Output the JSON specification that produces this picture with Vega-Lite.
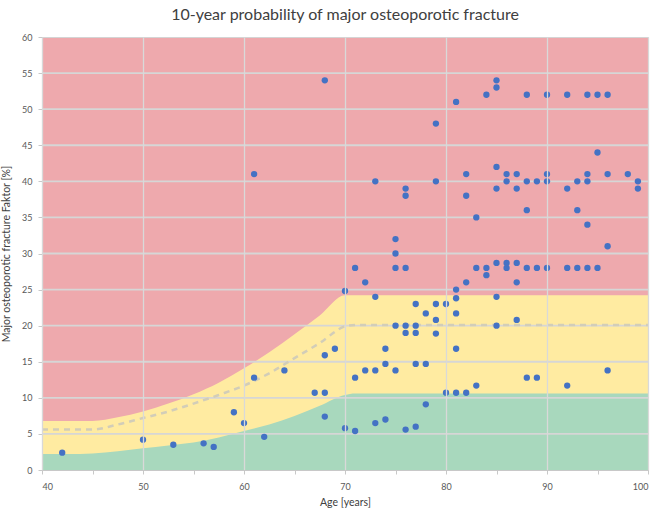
{
  "$schema": "https://vega.github.io/schema/vega-lite/v6.json",
  "width": 606,
  "height": 433,
  "autosize": {"type": "none"},
  "padding": {"left": 42, "top": 37, "right": 12, "bottom": 45},
  "background": "white",
  "config": {
    "font": "Lato",
    "view": {"stroke": "#D4D4D4", "strokeWidth": 1, "fill": "#EEA9AD"},
    "axis": {"labelFont": "Lato", "titleFont": "Lato", "labelColor": "#595959", "titleColor": "#404040", "labelFontSize": 9, "titleFontSize": 10.5, "titleFontWeight": "normal", "domainColor": "#C8C8C8", "tickColor": "#C8C8C8", "gridColor": "#D9D9D9", "gridWidth": 1.3}
  },
  "title": {"text": "10-year probability of major osteoporotic fracture", "fontSize": 16, "fontWeight": "normal", "color": "#404040", "font": "Lato", "offset": 10},
  "datasets": {
    "bands": [
      {"age": 40, "band": "lower", "v": 2.2}, {"age": 40, "band": "mid", "v": 5.6}, {"age": 40, "band": "upper", "v": 6.8},
      {"age": 42.5, "band": "lower", "v": 2.2}, {"age": 42.5, "band": "mid", "v": 5.6}, {"age": 42.5, "band": "upper", "v": 6.8},
      {"age": 45, "band": "lower", "v": 2.3}, {"age": 45, "band": "mid", "v": 5.6}, {"age": 45, "band": "upper", "v": 6.8},
      {"age": 47.5, "band": "lower", "v": 2.6}, {"age": 47.5, "band": "mid", "v": 6.3}, {"age": 47.5, "band": "upper", "v": 7.3},
      {"age": 50, "band": "lower", "v": 3.0}, {"age": 50, "band": "mid", "v": 7.2}, {"age": 50, "band": "upper", "v": 8.1},
      {"age": 52.5, "band": "lower", "v": 3.4}, {"age": 52.5, "band": "mid", "v": 8.1}, {"age": 52.5, "band": "upper", "v": 9.2},
      {"age": 55, "band": "lower", "v": 3.8}, {"age": 55, "band": "mid", "v": 9.2}, {"age": 55, "band": "upper", "v": 10.5},
      {"age": 57.5, "band": "lower", "v": 4.5}, {"age": 57.5, "band": "mid", "v": 10.4}, {"age": 57.5, "band": "upper", "v": 12.1},
      {"age": 60, "band": "lower", "v": 5.4}, {"age": 60, "band": "mid", "v": 11.7}, {"age": 60, "band": "upper", "v": 14.1},
      {"age": 62.5, "band": "lower", "v": 6.3}, {"age": 62.5, "band": "mid", "v": 13.4}, {"age": 62.5, "band": "upper", "v": 16.3},
      {"age": 65, "band": "lower", "v": 7.5}, {"age": 65, "band": "mid", "v": 15.5}, {"age": 65, "band": "upper", "v": 18.8},
      {"age": 67.5, "band": "lower", "v": 8.9}, {"age": 67.5, "band": "mid", "v": 17.6}, {"age": 67.5, "band": "upper", "v": 21.4},
      {"age": 70, "band": "lower", "v": 10.4}, {"age": 70, "band": "mid", "v": 19.9}, {"age": 70, "band": "upper", "v": 24.2},
      {"age": 71, "band": "lower", "v": 10.6}, {"age": 71, "band": "mid", "v": 20.1}, {"age": 71, "band": "upper", "v": 24.2},
      {"age": 100, "band": "lower", "v": 10.6}, {"age": 100, "band": "mid", "v": 20.1}, {"age": 100, "band": "upper", "v": 24.2}
    ],
    "gridlines": [
      {"v": 5}, {"v": 10}, {"v": 15}, {"v": 20}, {"v": 25}, {"v": 30}, {"v": 35}, {"v": 40}, {"v": 45}, {"v": 50}, {"v": 55}
    ],
    "patients": [
      {"age": 42, "v": 2.4}, {"age": 50, "v": 4.2}, {"age": 53, "v": 3.5}, {"age": 56, "v": 3.7}, {"age": 57, "v": 3.2},
      {"age": 59, "v": 8}, {"age": 60, "v": 6.5}, {"age": 61, "v": 12.8}, {"age": 61, "v": 41}, {"age": 62, "v": 4.6},
      {"age": 64, "v": 13.8}, {"age": 67, "v": 10.7}, {"age": 68, "v": 10.7}, {"age": 68, "v": 15.9}, {"age": 68, "v": 7.4},
      {"age": 68, "v": 54}, {"age": 69, "v": 16.8}, {"age": 70, "v": 24.8}, {"age": 70, "v": 5.8},
      {"age": 71, "v": 28}, {"age": 71, "v": 12.8}, {"age": 71, "v": 5.4}, {"age": 72, "v": 26}, {"age": 72, "v": 13.8},
      {"age": 73, "v": 40}, {"age": 73, "v": 24}, {"age": 73, "v": 13.8}, {"age": 73, "v": 6.5}, {"age": 74, "v": 16.8},
      {"age": 74, "v": 14.7}, {"age": 74, "v": 7}, {"age": 75, "v": 32}, {"age": 75, "v": 30}, {"age": 75, "v": 28},
      {"age": 75, "v": 20}, {"age": 75, "v": 13.8}, {"age": 76, "v": 39}, {"age": 76, "v": 38}, {"age": 76, "v": 28},
      {"age": 76, "v": 20}, {"age": 76, "v": 19}, {"age": 76, "v": 5.6}, {"age": 77, "v": 23}, {"age": 77, "v": 20},
      {"age": 77, "v": 19}, {"age": 77, "v": 14.7}, {"age": 77, "v": 6}, {"age": 78, "v": 21.7}, {"age": 78, "v": 14.7},
      {"age": 78, "v": 9.1}, {"age": 79, "v": 48}, {"age": 79, "v": 40}, {"age": 79, "v": 23}, {"age": 79, "v": 20.8},
      {"age": 79, "v": 18.9}, {"age": 80, "v": 23}, {"age": 80, "v": 10.7}, {"age": 81, "v": 51}, {"age": 81, "v": 25},
      {"age": 81, "v": 23.8}, {"age": 81, "v": 21.7}, {"age": 81, "v": 16.8}, {"age": 81, "v": 10.7}, {"age": 82, "v": 41},
      {"age": 82, "v": 38}, {"age": 82, "v": 26}, {"age": 82, "v": 10.7}, {"age": 83, "v": 35}, {"age": 83, "v": 28},
      {"age": 83, "v": 11.7}, {"age": 84, "v": 52}, {"age": 84, "v": 28}, {"age": 84, "v": 27}, {"age": 85, "v": 54},
      {"age": 85, "v": 53}, {"age": 85, "v": 42}, {"age": 85, "v": 39}, {"age": 85, "v": 28.7}, {"age": 85, "v": 24},
      {"age": 85, "v": 20}, {"age": 86, "v": 41}, {"age": 86, "v": 40}, {"age": 86, "v": 28.7}, {"age": 86, "v": 28},
      {"age": 87, "v": 41}, {"age": 87, "v": 39}, {"age": 87, "v": 28.7}, {"age": 87, "v": 26}, {"age": 87, "v": 20.8},
      {"age": 88, "v": 52}, {"age": 88, "v": 40}, {"age": 88, "v": 36}, {"age": 88, "v": 28}, {"age": 88, "v": 12.8},
      {"age": 89, "v": 40}, {"age": 89, "v": 28}, {"age": 89, "v": 12.8}, {"age": 90, "v": 52}, {"age": 90, "v": 41},
      {"age": 90, "v": 40}, {"age": 90, "v": 28}, {"age": 92, "v": 52}, {"age": 92, "v": 39}, {"age": 92, "v": 28},
      {"age": 92, "v": 11.7}, {"age": 93, "v": 40}, {"age": 93, "v": 36}, {"age": 93, "v": 28}, {"age": 94, "v": 52},
      {"age": 94, "v": 41}, {"age": 94, "v": 40}, {"age": 94, "v": 34}, {"age": 94, "v": 28}, {"age": 95, "v": 52},
      {"age": 95, "v": 44}, {"age": 95, "v": 28}, {"age": 96, "v": 52}, {"age": 96, "v": 41}, {"age": 96, "v": 31},
      {"age": 96, "v": 13.8}, {"age": 98, "v": 41}, {"age": 99, "v": 40}, {"age": 99, "v": 39}
    ]
  },
  "encoding": {
    "y": {"field": "v", "type": "quantitative", "scale": {"domain": [0, 60], "nice": false, "zero": true},
      "axis": {"title": "Major osteoporotic fracture Faktor [%]", "grid": false, "values": [0,5,10,15,20,25,30,35,40,45,50,55,60], "labelOverlap": false, "tickSize": 4, "labelPadding": 6, "titlePadding": 10}}
  },
  "layer": [
    {
      "data": {"name": "bands"},
      "transform": [{"filter": "datum.band == 'upper'"}],
      "mark": {"type": "area", "color": "#FFEBA1", "interpolate": "monotone"},
      "encoding": {"x": {"field": "age", "type": "quantitative", "scale": {"domain": [40, 100], "nice": false, "zero": false},
        "axis": {"title": "Age [years]", "grid": true, "zindex": 1, "values": [40,45,50,55,60,65,70,75,80,85,90,95,100], "labelExpr": "datum.value % 10 == 0 ? datum.label : ''", "tickSize": 4, "labelPadding": 8, "titlePadding": 6,
          "gridOpacity": {"condition": {"test": "datum.value % 10 != 0", "value": 0}, "value": 1}}}}
    },
    {
      "data": {"name": "bands"},
      "transform": [{"filter": "datum.band == 'lower'"}],
      "mark": {"type": "area", "color": "#A8D8BD", "interpolate": "monotone"},
      "encoding": {"x": {"field": "age", "type": "quantitative"}}
    },
    {
      "data": {"name": "gridlines"},
      "mark": {"type": "rule", "color": "#D6D6D6", "strokeWidth": 1.8, "opacity": 1},
      "encoding": {}
    },
    {
      "data": {"name": "bands"},
      "transform": [{"filter": "datum.band == 'mid'"}],
      "mark": {"type": "line", "color": "#D2CDB8", "strokeWidth": 2.5, "strokeDash": [6, 5], "interpolate": "monotone"},
      "encoding": {"x": {"field": "age", "type": "quantitative"}}
    },
    {
      "data": {"name": "patients"},
      "mark": {"type": "circle", "color": "#4472C4", "opacity": 1, "size": 40},
      "encoding": {"x": {"field": "age", "type": "quantitative"}}
    }
  ]
}
